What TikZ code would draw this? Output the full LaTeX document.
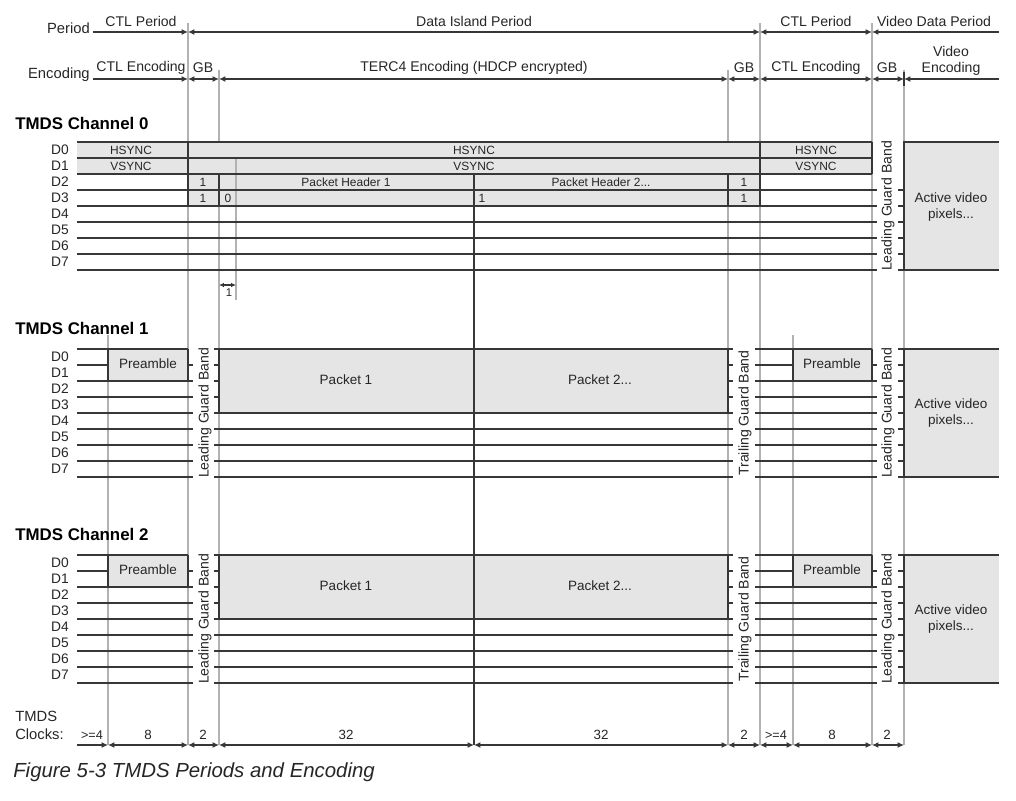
\documentclass[tikz,border=0pt]{standalone}
\usepackage{fontspec}
\setmainfont{Liberation Sans}
\usetikzlibrary{positioning,arrows.meta}
\definecolor{fieldgray}{RGB}{229,229,229}
\definecolor{guidegray}{RGB}{178,178,178}
\definecolor{linegray}{RGB}{55,55,55}

\begin{document}
\begin{tikzpicture}[
    x=0.025cm, y=-0.025cm,
    sig/.style={draw=linegray, line width=1.1pt},
    guide/.style={draw=guidegray, line width=0.8pt},
    dim/.style={draw=linegray, line width=1pt, {Latex[length=4.5pt,width=4.2pt]}-{Latex[length=4.5pt,width=4.2pt]}},
    dimend/.style={draw=linegray, line width=1pt, -{Latex[length=4.5pt,width=4.2pt]}},
    dimstart/.style={draw=linegray, line width=1pt, {Latex[length=4.5pt,width=4.2pt]}-},
    head/.style={font=\fontsize{10}{11.5}\selectfont, inner sep=0pt, align=center, text=black!85},
    rowname/.style={font=\fontsize{10.5}{12}\selectfont, inner sep=0pt, anchor=east, text=black!85},
    bit/.style={font=\fontsize{8.5}{9}\selectfont, inner sep=0pt, text=black!85},
    blk/.style={font=\fontsize{9.6}{11.5}\selectfont, inner sep=0pt, align=center, text=black!85},
    band/.style={font=\fontsize{10}{11}\selectfont, inner sep=0pt, rotate=90, text=black!85},
    chan/.style={font=\bfseries\fontsize{12}{14}\selectfont, inner sep=0pt, anchor=west},
    dname/.style={font=\fontsize{9.8}{10}\selectfont, inner sep=0pt, text=black!85}
]
\useasboundingbox (0,0) rectangle (1016,800);

% Guide lines
\foreach \gx in {188,760,872} \draw[guide] (\gx,23) -- (\gx,745);
\foreach \gx in {219,728,904} \draw[guide] (\gx,70) -- (\gx,745);
\foreach \gx in {108,793} \draw[guide] (\gx,335) -- (\gx,745);

% Period row
\node[rowname] (period) at (90,28) {Period};
\coordinate (p0) at (93,32);
\coordinate (p1) at (188,32);
\coordinate (p2) at (760,32);
\coordinate (p3) at (872,32);
\coordinate (p4) at (999,32);
\draw[dimend] (p0) -- (p1);
\draw[dim] (p1) -- (p2);
\draw[dim] (p2) -- (p3);
\draw[dimstart] (p3) -- (p4);
\node[head] (pctl1) at (141,21) {CTL Period};
\node[head] (pdata) at (474,21) {Data Island Period};
\node[head] (pctl2) at (816,21) {CTL Period};
\node[head] (pvid) at (934,21) {Video Data Period};

% Encoding row
\node[rowname] (encoding) at (90,75) {Encoding};
\foreach \n/\ex in {0/93,1/188,2/219,3/728,4/760,5/872,6/904,7/999} \coordinate (e\n) at (\ex,79);
\draw[dimend] (e0) -- (e1);
\foreach \a/\b in {1/2,2/3,3/4,4/5,5/6} \draw[dim] (e\a) -- (e\b);
\draw[dimstart] (e6) -- (e7);
\draw[sig] (904,72) -- (904,86);
\node[head] (ectl1) at (141,68) {CTL Encoding};
\node[head] (egb1) at (203,68) {GB};
\node[head] (eterc) at (474,68) {TERC4 Encoding (HDCP encrypted)};
\node[head] (egb2) at (744,68) {GB};
\node[head] (ectl2) at (816,68) {CTL Encoding};
\node[head] (egb3) at (887,68) {GB};
\node[head] (evid) at (951,61) {Video\\Encoding};

% TMDS Channel 0
\node[chan] (ch0) at (15,123) {TMDS Channel 0};
\foreach \i in {0,...,7} \node[dname] (c0-d\i) at (60,{150+16*\i}) {D\i};
\fill[fieldgray] (77,142) rectangle (872,174);
\fill[fieldgray] (188,174) rectangle (760,206);
\draw[guide] (236,158) -- (236,300);
\foreach \ly in {142,158,174} \draw[sig] (77,\ly) -- (872,\ly);
\foreach \ly in {190,206,222,238,254,270} \draw[sig] (77,\ly) -- (877,\ly);
\draw[sig] (188,142) -- (188,206);
\draw[sig] (760,142) -- (760,206);
\draw[sig] (872,142) -- (872,174);
\draw[sig] (219,174) -- (219,206);
\draw[sig] (728,174) -- (728,206);
\node[bit] (hs0) at (131,150) {HSYNC};
\node[bit] (hs1) at (474,150) {HSYNC};
\node[bit] (hs2) at (816,150) {HSYNC};
\node[bit] (vs0) at (131,166) {VSYNC};
\node[bit] (vs1) at (474,166) {VSYNC};
\node[bit] (vs2) at (816,166) {VSYNC};
\node[bit] (d2a) at (203,182) {1};
\node[bit] (ph1) at (346,182) {Packet Header 1};
\node[bit] (ph2) at (601,182) {Packet Header 2...};
\node[bit] (d2b) at (744,182) {1};
\node[bit] (d3a) at (203,198) {1};
\node[bit] (d3b) at (228,198) {0};
\node[bit] (d3c) at (482,198) {1};
\node[bit] (d3d) at (744,198) {1};
\fill[fieldgray] (904,142) rectangle (999,270);
\draw[sig] (999,142) -- (904,142) -- (904,270);
\draw[sig] (898,270) -- (999,270);
\foreach \ly in {190,206,222,238,254} \draw[sig] (898,\ly) -- (904,\ly);
\node[band] (lgb0) at (888,206) {Leading Guard Band};
\node[blk] (vid0) at (951,207) {Active video\\pixels...};
\coordinate (w0) at (219,285);
\coordinate (w1) at (236,285);
\draw[draw=linegray, line width=0.8pt, {Latex[length=3.5pt,width=3.2pt]}-{Latex[length=3.5pt,width=3.2pt]}] (w0) -- (w1);
\node[bit, font=\fontsize{8}{8}\selectfont] (wone) at (229,293) {1};

% TMDS Channels 1 and 2
\foreach \c/\t in {1/349,2/555} {
  \node[chan] (ch\c) at (15,\t-21) {TMDS Channel \c};
  \foreach \i in {0,...,7} \node[dname] (c\c-d\i) at (60,{\t+8+16*\i}) {D\i};
  % leading CTL with preamble
  \fill[fieldgray] (108,\t) rectangle (188,\t+32);
  \draw[sig] (77,\t) -- (188,\t);
  \draw[sig] (77,\t+16) -- (108,\t+16);
  \draw[sig] (188,\t+16) -- (193,\t+16);
  \foreach \k in {2,...,8} \draw[sig] (77,\t+16*\k) -- (193,\t+16*\k);
  \draw[sig] (108,\t) -- (108,\t+32);
  \draw[sig] (188,\t) -- (188,\t+32);
  \node[blk] (pre\c-a) at (148,\t+15) {Preamble};
  \node[band] (lgb\c-a) at (205,\t+64) {Leading Guard Band};
  % data island packets
  \fill[fieldgray] (219,\t) rectangle (728,\t+64);
  \draw[sig] (214,\t) -- (733,\t);
  \foreach \k in {1,2,3} {
    \draw[sig] (214,\t+16*\k) -- (219,\t+16*\k);
    \draw[sig] (728,\t+16*\k) -- (733,\t+16*\k);
  }
  \foreach \k in {4,...,8} \draw[sig] (214,\t+16*\k) -- (733,\t+16*\k);
  \draw[sig] (219,\t) -- (219,\t+64);
  \draw[sig] (728,\t) -- (728,\t+64);
  \node[blk] (pk\c-a) at (346,\t+31) {Packet 1};
  \node[blk] (pk\c-b) at (600,\t+31) {Packet 2...};
  \node[band] (tgb\c) at (745,\t+64) {Trailing Guard Band};
  % trailing CTL with preamble
  \fill[fieldgray] (793,\t) rectangle (872,\t+32);
  \draw[sig] (755,\t) -- (872,\t);
  \draw[sig] (755,\t+16) -- (793,\t+16);
  \draw[sig] (872,\t+16) -- (877,\t+16);
  \foreach \k in {2,...,8} \draw[sig] (755,\t+16*\k) -- (877,\t+16*\k);
  \draw[sig] (793,\t) -- (793,\t+32);
  \draw[sig] (872,\t) -- (872,\t+32);
  \node[blk] (pre\c-b) at (832,\t+15) {Preamble};
  % video
  \fill[fieldgray] (904,\t) rectangle (999,\t+128);
  \draw[sig] (898,\t) -- (999,\t);
  \draw[sig] (904,\t) -- (904,\t+128);
  \draw[sig] (898,\t+128) -- (999,\t+128);
  \foreach \k in {1,...,7} \draw[sig] (898,\t+16*\k) -- (904,\t+16*\k);
  \node[band] (lgb\c-b) at (888,\t+64) {Leading Guard Band};
  \node[blk] (vid\c) at (951,\t+64) {Active video\\pixels...};
}

% Packet boundary
\draw[sig, line width=1.3pt] (474,174) -- (474,745);

% TMDS Clocks
\node[rowname, anchor=west] (tmds) at (15,716) {TMDS};
\node[rowname, anchor=west] (clocks) at (15,734) {Clocks:};
\foreach \n/\kx in {0/77,1/108,2/188,3/219,4/474,5/728,6/760,7/793,8/872,9/904} \coordinate (k\n) at (\kx,745);
\draw[dimend] (k0) -- (k1);
\foreach \a/\b in {1/2,2/3,3/4,4/5,5/6,6/7,7/8,8/9} \draw[dim] (k\a) -- (k\b);
\node[bit, font=\fontsize{9}{10}\selectfont] (n0) at (92,735) {>=4};
\node[bit, font=\fontsize{9.5}{10}\selectfont] (n1) at (148,735) {8};
\node[bit, font=\fontsize{9.5}{10}\selectfont] (n2) at (203,735) {2};
\node[bit, font=\fontsize{9.5}{10}\selectfont] (n3) at (346,735) {32};
\node[bit, font=\fontsize{9.5}{10}\selectfont] (n4) at (601,735) {32};
\node[bit, font=\fontsize{9.5}{10}\selectfont] (n5) at (744,735) {2};
\node[bit, font=\fontsize{9}{10}\selectfont] (n6) at (776,735) {>=4};
\node[bit, font=\fontsize{9.5}{10}\selectfont] (n7) at (832,735) {8};
\node[bit, font=\fontsize{9.5}{10}\selectfont] (n8) at (887,735) {2};

% Caption
\node[anchor=west, inner sep=0pt, text=black!85, font=\itshape\fontsize{14.5}{16}\selectfont] (caption) at (13,772) {Figure 5-3 TMDS Periods and Encoding};
\end{tikzpicture}
\end{document}
